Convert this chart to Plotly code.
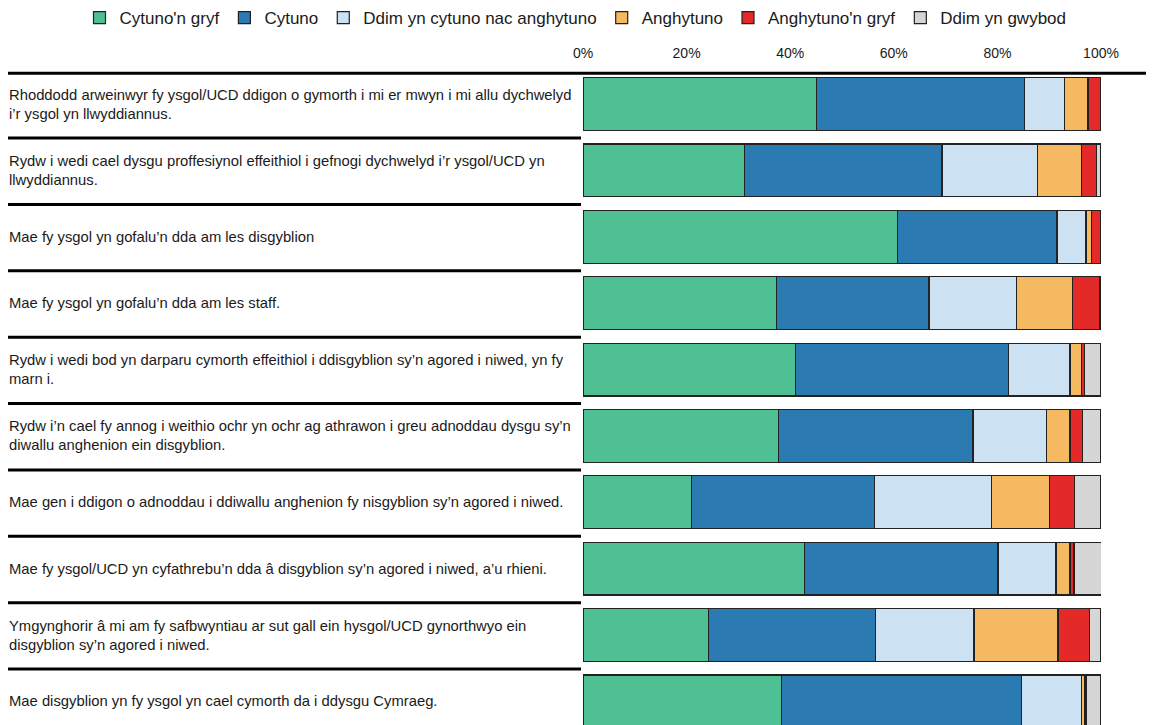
import plotly.graph_objects as go

statements = [
    "Rhoddodd arweinwyr fy ysgol/UCD ddigon o gymorth i mi er mwyn i mi allu dychwelyd<br>i’r ysgol yn llwyddiannus.",
    "Rydw i wedi cael dysgu proffesiynol effeithiol i gefnogi dychwelyd i’r ysgol/UCD yn<br>llwyddiannus.",
    "Mae fy ysgol yn gofalu’n dda am les disgyblion",
    "Mae fy ysgol yn gofalu’n dda am les staff.",
    "Rydw i wedi bod yn darparu cymorth effeithiol i ddisgyblion sy’n agored i niwed, yn fy<br>marn i.",
    "Rydw i’n cael fy annog i weithio ochr yn ochr ag athrawon i greu adnoddau dysgu sy’n<br>diwallu anghenion ein disgyblion.",
    "Mae gen i ddigon o adnoddau i ddiwallu anghenion fy nisgyblion sy’n agored i niwed.",
    "Mae fy ysgol/UCD yn cyfathrebu’n dda â disgyblion sy’n agored i niwed, a’u rhieni.",
    "Ymgynghorir â mi am fy safbwyntiau ar sut gall ein hysgol/UCD gynorthwyo ein<br>disgyblion sy’n agored i niwed.",
    "Mae disgyblion yn fy ysgol yn cael cymorth da i ddysgu Cymraeg.",
]

series_names = ["Cytuno'n gryf", "Cytuno", "Ddim yn cytuno nac anghytuno",
                "Anghytuno", "Anghytuno'n gryf", "Ddim yn gwybod"]

cytuno_gryf = [45.0, 31.2, 60.7, 37.3, 41.0, 37.7, 20.9, 42.7, 24.2, 38.3]
cytuno = [40.2, 38.1, 30.8, 29.5, 41.2, 37.6, 35.4, 37.4, 32.3, 46.4]
ddim_cytuno_nac = [7.7, 18.5, 5.6, 16.9, 11.8, 14.2, 22.5, 11.2, 19.0, 11.6]
anghytuno = [4.6, 8.5, 1.1, 10.8, 2.3, 4.5, 11.3, 2.7, 16.2, 0.6]
anghytuno_gryf = [2.5, 2.9, 1.8, 5.2, 0.5, 2.5, 4.8, 0.8, 6.1, 0.2]
ddim_gwybod = [0.0, 0.8, 0.0, 0.3, 3.2, 3.5, 5.0, 5.3, 2.2, 2.9]

tick_values = [0, 20, 40, 60, 80, 100]

colors = ["#4fbf94", "#2b7ab1", "#cce2f2", "#f5b961", "#e32a28", "#d6d6d6"]
all_series = [cytuno_gryf, cytuno, ddim_cytuno_nac, anghytuno, anghytuno_gryf, ddim_gwybod]

# page has an 8px body margin; figure sized to end at the window edge
OFF = 8
W, H = 1154 - OFF, 725 - OFF
ML, MR, MT, MB = 583 - OFF, 53, 72 - OFF, 0
PW = W - ML - MR
PH = H - MT - MB
FONT = "Liberation Sans, Arial, sans-serif"

fig = go.Figure()
for name, vals, col in zip(series_names, all_series, colors):
    fig.add_trace(go.Bar(
        name=name, y=statements, x=vals, orientation="h",
        marker=dict(color=col, line=dict(color="#222222", width=1.2)),
        hoverinfo="skip",
    ))

def px_to_paper_x(px):
    return (px - ML) / PW

# labels
for s in statements:
    fig.add_annotation(
        text=s, x=px_to_paper_x(-1), xref="paper", y=s, yref="y",
        xanchor="left", align="left", showarrow=False,
        font=dict(size=14.8, color="#1a1a1a", family=FONT),
    )

# separators between rows
for i in range(1, len(statements)):
    fig.add_shape(type="line", xref="paper", yref="y",
                  x0=px_to_paper_x(0), x1=px_to_paper_x(573),
                  y0=i - 0.5 + 0.013, y1=i - 0.5 + 0.013,
                  line=dict(color="black", width=3))
# top line across full width
fig.add_shape(type="line", xref="paper", yref="paper",
              x0=px_to_paper_x(0), x1=px_to_paper_x(W),
              y0=1 - 1.2 / PH, y1=1 - 1.2 / PH,
              line=dict(color="black", width=3))

fig.update_layout(
    width=W, height=H,
    margin=dict(l=ML, r=MR, t=MT, b=MB, pad=0, autoexpand=False),
    barmode="stack", bargap=0.205,
    paper_bgcolor="white", plot_bgcolor="white",
    font=dict(family=FONT, color="#1a1a1a"),
    legend=dict(orientation="h", x=px_to_paper_x(71.5), xanchor="left",
                y=1 + (MT - 10) / PH, yanchor="middle",
                font=dict(size=17), itemwidth=30, traceorder="normal",
                bgcolor="rgba(0,0,0,0)"),
    xaxis=dict(side="top", range=[0, 100], tickvals=tick_values,
               ticktext=[f"{v}%" for v in tick_values],
               showgrid=False, zeroline=False, showline=False, ticks="",
               ticklabelstandoff=10,
               tickfont=dict(size=14), fixedrange=True),
    yaxis=dict(type="category", categoryorder="array", categoryarray=statements,
               range=[9.356, -0.483], showticklabels=False, showgrid=False,
               zeroline=False, showline=False, ticks="", fixedrange=True),
)

fig.write_html("out.html")
